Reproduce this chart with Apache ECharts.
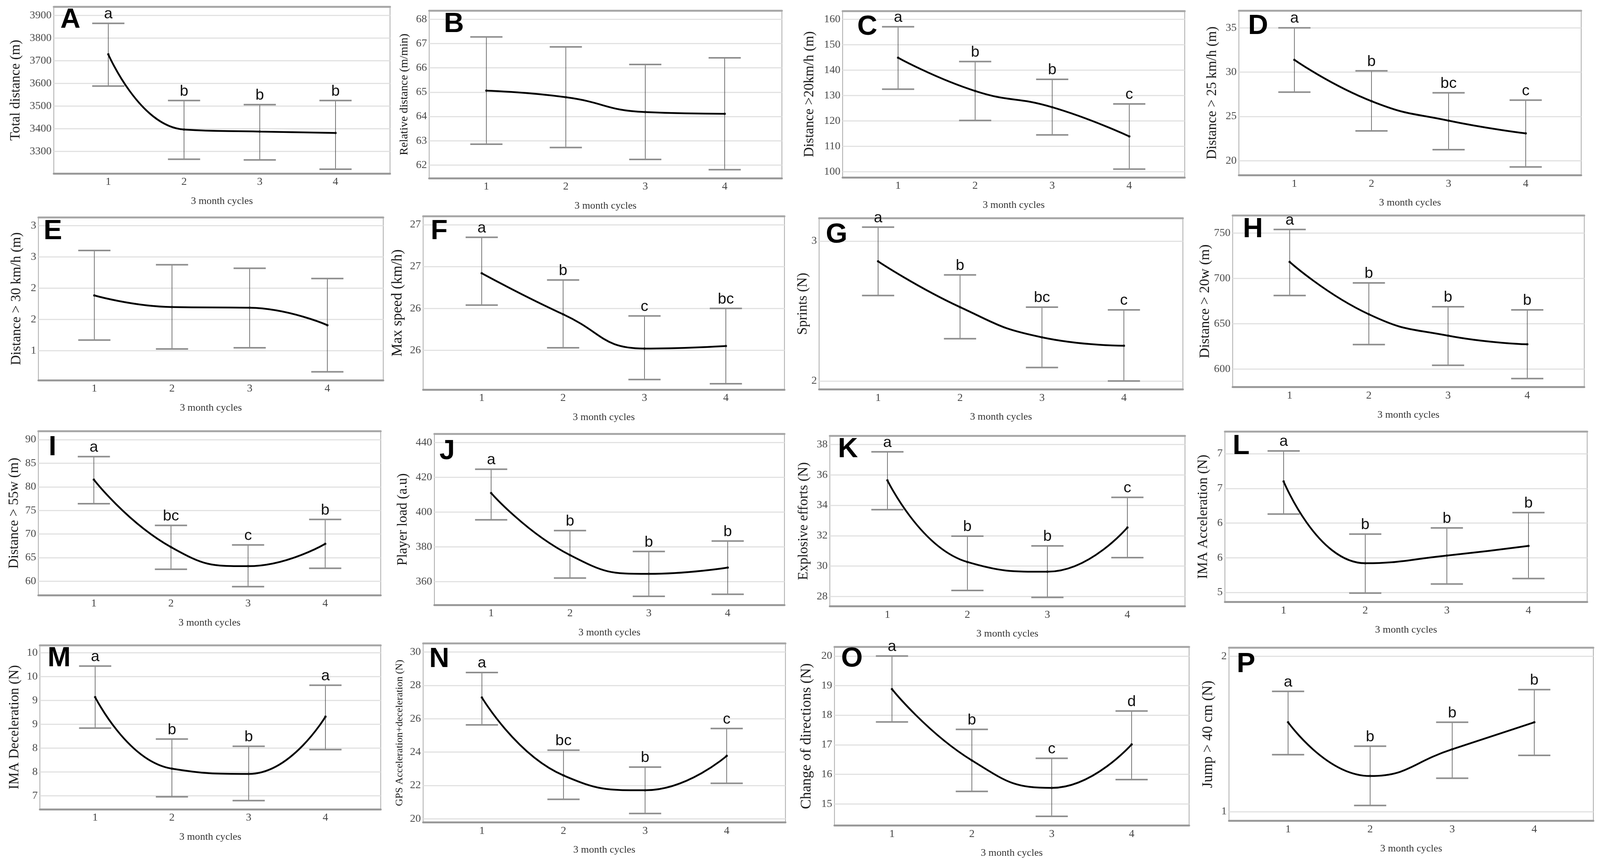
<!DOCTYPE html>
<html><head><meta charset="utf-8">
<script src="https://cdn.jsdelivr.net/npm/echarts@6/dist/echarts.min.js"></script>
<style>html,body{margin:0;padding:0;background:#fff;overflow:hidden}#c{width:100vw;height:100vh}</style>
</head><body><div id="c"></div>
<script>
// ---------- data ----------
const cycles = [1, 2, 3, 4];
const xAxisTitle = '3 month cycles';
const panelIds = ['A','B','C','D','E','F','G','H','I','J','K','L','M','N','O','P'];
const yTitles = ['Total distance (m)','Relative distance (m/min)','Distance >20km/h (m)','Distance > 25 km/h (m)',
  'Distance > 30 km/h (m)','Max speed (km/h)','Sprints (N)','Distance > 20w (m)',
  'Distance > 55w (m)','Player load (a.u)','Explosive efforts (N)','IMA Acceleration (N)',
  'IMA Deceleration (N)','GPS Acceleration+deceleration (N)','Change of directions (N)','Jump > 40 cm (N)'];

const meanA = [3728, 3396, 3387, 3381], lowA = [3588, 3265, 3262, 3221], highA = [3865, 3524, 3506, 3524], sigA = ['a','b','b','b'];
const meanB = [65.06, 64.79, 64.18, 64.11], lowB = [62.86, 62.72, 62.23, 61.81], highB = [67.27, 66.86, 66.14, 66.41], sigB = ['','','',''];
const meanC = [144.9, 131.8, 125.4, 113.9], lowC = [132.5, 120.2, 114.5, 101.0], highC = [157.1, 143.4, 136.4, 126.7], sigC = ['a','b','b','c'];
const meanD = [31.38, 26.72, 24.52, 23.08], lowD = [27.74, 23.36, 21.24, 19.29], highD = [35.0, 30.14, 27.66, 26.83], sigD = ['a','b','bc','c'];
const meanE = [1.883, 1.697, 1.686, 1.407], lowE = [1.168, 1.027, 1.045, 0.661], highE = [2.602, 2.374, 2.318, 2.153], sigE = ['','','',''];
const meanF = [26.42, 25.93, 25.52, 25.55], lowF = [26.04, 25.53, 25.15, 25.10], highF = [26.85, 26.34, 25.91, 26.00], sigF = ['a','b','c','bc'];
const meanG = [2.855, 2.528, 2.312, 2.252], lowG = [2.611, 2.302, 2.096, 2.0], highG = [3.10, 2.758, 2.528, 2.508], sigG = ['a','b','bc','c'];
const meanH = [718.2, 660.5, 636.9, 627.4], lowH = [681.2, 627.1, 604.3, 589.7], highH = [754.0, 695.1, 668.8, 665.4], sigH = ['a','b','b','b'];
const meanI = [81.52, 67.24, 63.19, 67.92], lowI = [76.43, 62.54, 58.85, 62.75], highI = [86.39, 71.82, 67.68, 73.09], sigI = ['a','bc','c','b'];
const meanJ = [410.9, 375.2, 364.4, 368.0], lowJ = [395.5, 362.0, 351.5, 352.7], highJ = [424.6, 389.3, 377.3, 383.3], sigJ = ['a','b','b','b'];
const meanK = [35.64, 30.27, 29.63, 32.54], lowK = [33.71, 28.40, 27.94, 30.56], highK = [37.52, 31.97, 31.33, 34.52], sigK = ['a','b','b','c'];
const meanL = [6.60, 5.42, 5.53, 5.67], lowL = [6.13, 4.99, 5.12, 5.20], highL = [7.04, 5.84, 5.93, 6.15], sigL = ['a','b','b','b'];
const meanM = [9.07, 7.57, 7.46, 8.66], lowM = [8.42, 6.98, 6.90, 7.97], highM = [9.72, 8.19, 8.04, 9.32], sigM = ['a','b','b','a'];
const meanN = [27.27, 22.60, 21.71, 23.77], lowN = [25.63, 21.17, 20.32, 22.13], highN = [28.77, 24.11, 23.10, 25.41], sigN = ['a','bc','b','c'];
const meanO = [18.88, 16.47, 15.54, 17.01], lowO = [17.77, 15.42, 14.58, 15.82], highO = [20.0, 17.52, 16.54, 18.14], sigO = ['a','b','c','d'];
const meanP = [1.575, 1.229, 1.401, 1.575], lowP = [1.366, 1.039, 1.215, 1.362], highP = [1.774, 1.421, 1.575, 1.785], sigP = ['a','b','b','b'];

const means = [meanA,meanB,meanC,meanD,meanE,meanF,meanG,meanH,meanI,meanJ,meanK,meanL,meanM,meanN,meanO,meanP];
const lows  = [lowA,lowB,lowC,lowD,lowE,lowF,lowG,lowH,lowI,lowJ,lowK,lowL,lowM,lowN,lowO,lowP];
const highs = [highA,highB,highC,highD,highE,highF,highG,highH,highI,highJ,highK,highL,highM,highN,highO,highP];
const sigs  = [sigA,sigB,sigC,sigD,sigE,sigF,sigG,sigH,sigI,sigJ,sigK,sigL,sigM,sigN,sigO,sigP];

// ---------- layout (pixels at 4373x2211, axis extents, styles) ----------
const layout = [
  {box:[147,17.5,1066,444],      y:[3202,3937.7,100],   gap:84, ns:38, tag:[165,16]},
  {box:[1173,27.4,2137,456],     y:[61.46,68.35,1],     gap:52, ns:32, tag:[1213,27]},
  {box:[2303,28,3238,454],       y:[97.73,163.35,10],   gap:71, ns:38, tag:[2343,34]},
  {box:[3386,27.4,4321.6,448.3], y:[18.36,36.93,5],     gap:53, ns:38, tag:[3411,32]},
  {box:[105,556,1047.5,973],     y:[0.526,3.134,0.5],   gap:40, ns:38, tag:[119,557], rnd:true},
  {box:[1156.5,553.6,2144,997],  y:[25.03,27.10,0.5],   gap:50, ns:40, tag:[1177,557], rnd:true},
  {box:[2238.7,558.6,3233,996.4],y:[1.94,3.163,1],      gap:24, ns:38, tag:[2257,566]},
  {box:[3369,551.4,4330,990.7],  y:[580.2,769.4,50],    gap:52, ns:39, tag:[3397,552]},
  {box:[104.8,1103.6,1040.5,1522.8], y:[57.07,91.77,5], gap:46, ns:38, tag:[133,1110]},
  {box:[1187.2,1110.4,2144,1547.8],  y:[346.6,444.9,20],gap:67, ns:38, tag:[1201,1120]},
  {box:[2268,1115.7,3238.7,1551.4],  y:[27.36,38.56,2], gap:52, ns:38, tag:[2290,1115]},
  {box:[3347.8,1104.3,4338,1540.7],  y:[4.86,7.32,0.5], gap:40, ns:38, tag:[3369,1107], rnd:true},
  {box:[109,1650.9,1040.5,2070.8],   y:[6.72,10.16,0.5],gap:50, ns:38, tag:[130,1650], rnd:true},
  {box:[1156.5,1646.6,2146.7,2104.3],y:[19.79,30.51,2], gap:50, ns:28, tag:[1173,1652]},
  {box:[2280.7,1655.3,3250,2112.4],  y:[14.27,20.31,1], gap:56, ns:40, tag:[2299,1651]},
  {box:[3359,1657.5,4354.8,2100.7],  y:[0.94,2.055,1],  gap:37, ns:40, tag:[3380,1665]}
];
const X_MIN = 0.28, X_MAX = 4.72;
const SERIF = 'Liberation Serif, Times New Roman, serif';
const SANS = 'Liberation Sans, Arial, sans-serif';

const W = window.innerWidth || 4373, H = window.innerHeight || 2211;
const SX = W / 4373, SY = H / 2211, S = Math.min(SX, SY);

function isMult(v, step){ const q = v / step; return Math.abs(q - Math.round(q)) < 1e-6; }

function makeErrRender(sig){
  return function(params, api){
    const x = api.value(0), lo = api.value(1), hi = api.value(2);
    const pLo = api.coord([x, lo]), pHi = api.coord([x, hi]);
    const hw = 44 * SX;
    return {type:'group', children:[
      {type:'line', shape:{x1:pLo[0],y1:pLo[1],x2:pHi[0],y2:pHi[1]}, style:{stroke:'#555', lineWidth:1.6}},
      {type:'line', shape:{x1:pHi[0]-hw,y1:pHi[1],x2:pHi[0]+hw,y2:pHi[1]}, style:{stroke:'#8e8e8e', lineWidth:4}},
      {type:'line', shape:{x1:pLo[0]-hw,y1:pLo[1],x2:pLo[0]+hw,y2:pLo[1]}, style:{stroke:'#8e8e8e', lineWidth:4}},
      {type:'text', x:pHi[0], y:pHi[1] - 4 * SY, style:{text:sig[params.dataIndex] || '', fontFamily:'Liberation Sans', fontSize:42 * S,
        fill:'#111', align:'center', verticalAlign:'bottom'}}
    ]};
  };
}

const grid = [], xAxis = [], yAxis = [], series = [], title = [];
panelIds.forEach((id, i) => {
  const L = layout[i];
  const [l, t, r, b] = L.box;
  const [ymin, ymax, step] = L.y;
  grid.push({left:l*SX, top:t*SY, width:(r-l)*SX, height:(b-t)*SY, show:true, borderColor:'#ababab', borderWidth:2, backgroundColor:'#fff'});
  xAxis.push({
    type:'value', gridIndex:i, min:X_MIN, max:X_MAX, minInterval:1, maxInterval:1, position:'bottom',
    name:xAxisTitle, nameLocation:'middle', nameGap:58 * SY,
    nameTextStyle:{fontFamily:SERIF, fontSize:28 * S, color:'#333'},
    axisLine:{show:true, onZero:false, lineStyle:{color:'#9a9a9a', width:5}},
    axisTick:{show:false}, splitLine:{show:false},
    axisLabel:{fontFamily:SERIF, fontSize:30 * S, color:'#444', margin:8 * SY,
      formatter:v => isMult(v,1) ? String(Math.round(v)) : ''}
  });
  xAxis.push({
    type:'value', gridIndex:i, min:X_MIN, max:X_MAX, position:'top',
    axisLine:{show:true, onZero:false, lineStyle:{color:'#a8a8a8', width:5}},
    axisTick:{show:false}, axisLabel:{show:false}, splitLine:{show:false}
  });
  yAxis.push({
    type:'value', gridIndex:i, min:ymin, max:ymax, minInterval:step, maxInterval:step,
    name:yTitles[i], nameLocation:'middle', nameGap:L.gap * SX,
    nameTextStyle:{fontFamily:SERIF, fontSize:L.ns * S, color:'#1a1a1a'},
    axisLine:{show:false}, axisTick:{show:false},
    splitLine:{show:true, lineStyle:{color:'#e2e2e2', width:3}},
    axisLabel:{fontFamily:SERIF, fontSize:30 * S, color:'#4a4a4a', margin:6 * SX,
      formatter:v => isMult(v, step) ? (L.rnd ? String(Math.round(v)) : String(+v.toFixed(4))) : ''}
  });
  title.push({text:id, left:L.tag[0]*SX, top:L.tag[1]*SY, padding:0,
    textStyle:{fontFamily:SANS, fontSize:76 * S, fontWeight:'bold', color:'#000'}});

  const xi = i * 2;
  series.push({
    type:'custom', xAxisIndex:xi, yAxisIndex:i, renderItem:makeErrRender(sigs[i]), clip:false, z:2,
    encode:{x:0, y:[1,2]},
    data: cycles.map((c, k) => [c, lows[i][k], highs[i][k]])
  });
  series.push({
    type:'line', xAxisIndex:xi, yAxisIndex:i, smooth:0.5, z:3,
    symbol:'circle', symbolSize:6, showSymbol:true,
    lineStyle:{color:'#000', width:4.5}, itemStyle:{color:'#111'},
    data: cycles.map((c, k) => [c, means[i][k]])
  });
});

const chart = echarts.init(document.getElementById('c'), null, {renderer:'canvas'});
chart.setOption({backgroundColor:'#fff', animation:false, title, grid, xAxis, yAxis, series});
</script>
</body></html>
